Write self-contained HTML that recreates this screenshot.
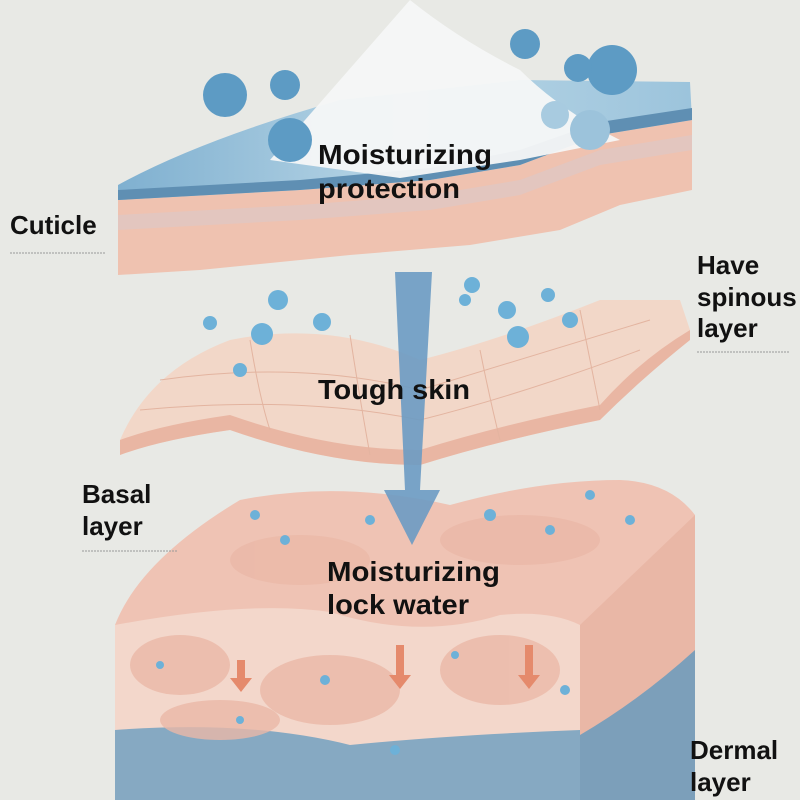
<!DOCTYPE html>
<html><head><meta charset="utf-8"><style>
html,body{margin:0;padding:0;background:#e8e9e5;}
svg{display:block}
text{font-family:"Liberation Sans",sans-serif;font-weight:bold;fill:#111;font-size:26px;}
text.c{font-size:28px;}
</style></head><body>
<svg width="800" height="800" viewBox="0 0 800 800">
<defs>
<linearGradient id="bl" x1="0" y1="0" x2="1" y2="0"><stop offset="0" stop-color="#7fb0d0"/><stop offset="0.5" stop-color="#b9d6e6"/><stop offset="1" stop-color="#9cc4dc"/></linearGradient>
</defs>
<rect width="800" height="800" fill="#e8e9e5"/>
<!-- bottom block -->
<path d="M115,625 Q140,560 240,500 Q340,480 450,505 Q540,480 620,480 Q670,482 695,515 L695,800 L115,800 Z" fill="#efc3b4"/>
<path d="M580,625 L695,515 L695,800 L580,800 Z" fill="#e9b7a6"/>
<path d="M580,735 Q640,700 695,650 L695,800 L580,800 Z" fill="#7c9fba"/>
<path d="M115,625 Q250,600 330,612 Q420,640 500,615 Q550,610 580,625 L580,800 L115,800 Z" fill="#f3d7cb"/>
<path d="M115,730 Q250,720 350,745 Q450,735 580,730 L580,800 L115,800 Z" fill="#86a9c2"/>
<g fill="#ebb9a8" opacity="0.8">
<ellipse cx="180" cy="665" rx="50" ry="30"/><ellipse cx="330" cy="690" rx="70" ry="35"/>
<ellipse cx="500" cy="670" rx="60" ry="35"/><ellipse cx="220" cy="720" rx="60" ry="20"/>
<ellipse cx="300" cy="560" rx="70" ry="25"/><ellipse cx="520" cy="540" rx="80" ry="25"/>
</g>
<g fill="#e58a6c"><path d="M237,660h8v18h7l-11,14l-11,-14h7z"/><path d="M396,645h8v30h7l-11,14l-11,-14h7z"/><path d="M525,645h8v30h7l-11,14l-11,-14h7z"/></g>
<!-- middle sheet -->
<path d="M120,440 Q150,370 230,340 Q330,320 420,360 Q500,340 600,300 L680,300 L690,330 Q640,370 600,420 Q500,440 420,465 Q330,465 230,430 Q160,440 120,455 Z" fill="#f2d7c8"/>
<path d="M120,440 Q160,425 230,415 Q330,450 420,450 Q500,425 600,405 Q640,360 690,330 L690,340 Q640,380 600,420 Q500,440 420,465 Q330,465 230,430 Q160,440 120,455 Z" fill="#e9b6a3"/>
<g stroke="#e3b4a0" stroke-width="1" fill="none">
<path d="M160,380 Q300,360 420,390 Q520,360 650,320"/><path d="M140,410 Q300,395 420,420 Q520,395 640,350"/>
<path d="M250,340 Q260,400 270,430"/><path d="M350,335 Q360,400 370,455"/><path d="M480,350 Q490,400 500,440"/><path d="M580,310 Q590,360 600,410"/>
</g>
<!-- top layer -->
<path d="M118,200 L300,190 L430,180 L520,165 L600,135 L692,120 L692,190 L620,205 L560,230 L470,245 L350,255 L200,270 L118,275 Z" fill="#efc2b0"/>
<path d="M118,215 L300,205 L430,195 L520,180 L600,150 L692,135 L692,150 L600,165 L520,195 L430,210 L300,220 L118,230 Z" fill="#e3c6bf"/>
<path d="M118,185 Q200,140 340,100 L520,80 L690,82 L692,120 L600,135 L520,165 L430,180 L300,190 L118,200 Z" fill="url(#bl)"/>
<path d="M118,190 L300,180 L430,168 L520,150 L600,122 L692,108 L692,120 L600,135 L520,165 L430,180 L300,190 L118,200 Z" fill="#5f8fb3"/>
<path d="M270,160 Q340,80 410,0 Q460,40 520,70 Q560,110 620,140 L520,160 L400,178 Z" fill="#f6f7f7" opacity="0.95"/>
<g fill="#5d9bc4">
<circle cx="225" cy="95" r="22"/><circle cx="285" cy="85" r="15"/><circle cx="290" cy="140" r="22"/><circle cx="525" cy="44" r="15"/>
<circle cx="612" cy="70" r="25"/><circle cx="578" cy="68" r="14"/><circle cx="590" cy="130" r="20" fill="#9cc3db"/><circle cx="555" cy="115" r="14" fill="#a8cbe0"/>
</g>
<!-- arrow -->
<path d="M395,272 L432,272 L420,490 L440,490 L412,545 L384,490 L405,490 Z" fill="#6b9bc3" opacity="0.9"/>
<g fill="#6db1d8">
<circle cx="278" cy="300" r="10"/><circle cx="210" cy="323" r="7"/><circle cx="322" cy="322" r="9"/><circle cx="262" cy="334" r="11"/><circle cx="240" cy="370" r="7"/>
<circle cx="472" cy="285" r="8"/><circle cx="465" cy="300" r="6"/><circle cx="507" cy="310" r="9"/><circle cx="518" cy="337" r="11"/><circle cx="548" cy="295" r="7"/><circle cx="570" cy="320" r="8"/>
<circle cx="255" cy="515" r="5"/><circle cx="370" cy="520" r="5"/><circle cx="490" cy="515" r="6"/><circle cx="590" cy="495" r="5"/><circle cx="630" cy="520" r="5"/><circle cx="285" cy="540" r="5"/><circle cx="550" cy="530" r="5"/>
<circle cx="160" cy="665" r="4"/><circle cx="325" cy="680" r="5"/><circle cx="240" cy="720" r="4"/><circle cx="395" cy="750" r="5"/><circle cx="565" cy="690" r="5"/><circle cx="455" cy="655" r="4"/>
</g>
<!-- labels -->
<text x="10" y="234">Cuticle</text>
<line x1="10" y1="253" x2="105" y2="253" stroke="#999" stroke-dasharray="2,1"/>
<text class="c" x="318" y="164" textLength="174" lengthAdjust="spacingAndGlyphs">Moisturizing</text><text class="c" x="318" y="198" textLength="142" lengthAdjust="spacingAndGlyphs">protection</text>
<text x="697" y="274">Have</text><text x="697" y="306">spinous</text><text x="697" y="337">layer</text>
<line x1="697" y1="352" x2="790" y2="352" stroke="#999" stroke-dasharray="2,1"/>
<text class="c" x="318" y="399" textLength="152" lengthAdjust="spacingAndGlyphs">Tough skin</text>
<text x="82" y="503">Basal</text><text x="82" y="535">layer</text>
<line x1="82" y1="551" x2="178" y2="551" stroke="#999" stroke-dasharray="2,1"/>
<text class="c" x="327" y="581" textLength="173" lengthAdjust="spacingAndGlyphs">Moisturizing</text><text class="c" x="327" y="614" textLength="142" lengthAdjust="spacingAndGlyphs">lock water</text>
<text x="690" y="759">Dermal</text><text x="690" y="791">layer</text>
</svg>
</body></html>
